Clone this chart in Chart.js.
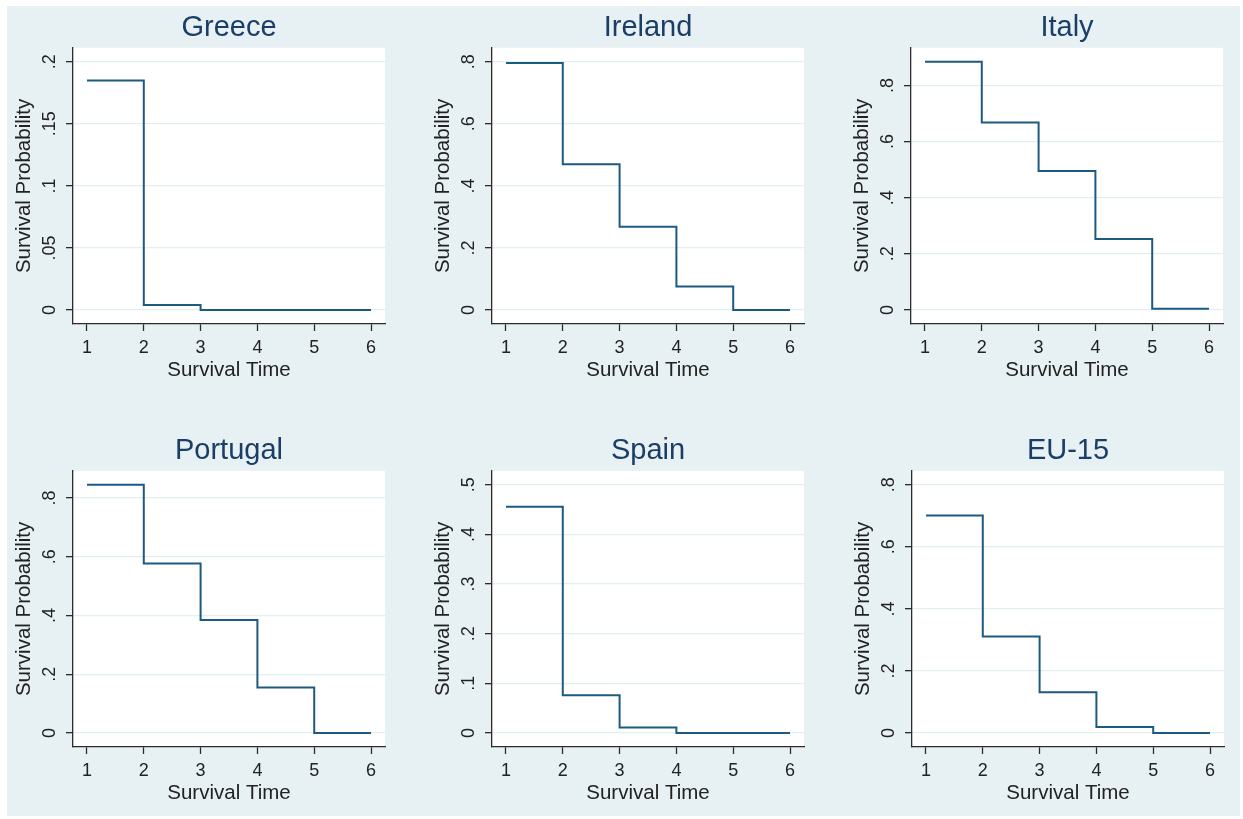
<!DOCTYPE html>
<html>
<head>
<meta charset="utf-8">
<script src="https://cdn.jsdelivr.net/npm/chart.js@4.4.1/dist/chart.umd.min.js"></script>
<style>
  body { margin: 0; background: #fff; width: 1243px; height: 819px; overflow: hidden; }
  #bg { position: absolute; left: 7px; top: 6px; width: 1233px; height: 810px; background: #e7f1f3; }
  canvas { position: absolute; }
</style>
</head>
<body>
<div id="bg"></div>
<canvas id="c0" width="387" height="381" style="left:8px;top:6px"></canvas>
<canvas id="c1" width="387" height="381" style="left:427px;top:6px"></canvas>
<canvas id="c2" width="387" height="381" style="left:846px;top:6px"></canvas>
<canvas id="c3" width="387" height="381" style="left:8px;top:429px"></canvas>
<canvas id="c4" width="387" height="381" style="left:427px;top:429px"></canvas>
<canvas id="c5" width="387" height="381" style="left:847px;top:429px"></canvas>
<script>
// ---------------- data ----------------
var survivalTime = [1, 2, 3, 4, 5, 6];
var countries = ['Greece', 'Ireland', 'Italy', 'Portugal', 'Spain', 'EU-15'];

var greece   = [0.185, 0.004, 0, 0, 0, 0];
var ireland  = [0.796, 0.470, 0.268, 0.076, 0, 0];
var italy    = [0.884, 0.668, 0.495, 0.253, 0.004, 0.004];
var portugal = [0.845, 0.577, 0.385, 0.155, 0, 0];
var spain    = [0.456, 0.076, 0.011, 0, 0, 0];
var eu15     = [0.701, 0.311, 0.131, 0.019, 0, 0];

var yTicksGreece = [0, 0.05, 0.1, 0.15, 0.2];
var yTicksTenths = [0, 0.1, 0.2, 0.3, 0.4, 0.5];
var yTicksFifths = [0, 0.2, 0.4, 0.6, 0.8];

var series = [greece, ireland, italy, portugal, spain, eu15];
var yTicks = [yTicksGreece, yTicksFifths, yTicksFifths, yTicksFifths, yTicksTenths, yTicksFifths];

// ---------------- style ----------------
var FONT = "'Liberation Sans', Arial, Helvetica, sans-serif";
var lineColor = '#1c5a80';
var titleColor = '#1a3e68';
var axisColor = '#2b2b2b';
var gridColor = '#e3eef1';
var m = 14 / 248; // stata plot-region inner margin, as a share of the data range

// white plot region behind the lines
var plotBg = {
    id: 'plotBg',
    beforeDraw: function(chart) {
        var a = chart.chartArea, ctx = chart.ctx;
        ctx.save();
        ctx.fillStyle = '#fff';
        ctx.fillRect(a.left, a.top, a.right - a.left, a.bottom - a.top);
        ctx.restore();
    }
};

function fmt(v) {
    if (v === 0) return '0';
    return String(+v.toFixed(2)).replace(/^0\./, '.');
}

for (var i = 0; i < countries.length; i++) {
    var vals = series[i];
    var ticks = yTicks[i];
    var hi = Math.max(Math.max.apply(null, ticks), Math.max.apply(null, vals));
    var yPad = ticks === yTicksGreece ? 3 : 8;

    (function(vals, ticks, hi, yPad, name, id) {
        new Chart(document.getElementById(id).getContext('2d'), {
            type: 'line',
            data: {
                datasets: [{
                    label: name,
                    data: survivalTime.map(function(t, k) { return {x: t, y: vals[k]}; }),
                    borderColor: lineColor,
                    borderWidth: 2,
                    pointRadius: 0,
                    stepped: 'before',
                    fill: false
                }]
            },
            options: {
                responsive: false,
                animation: false,
                devicePixelRatio: 1,
                layout: { padding: { left: 0, right: 10, top: 0, bottom: 0 } },
                plugins: {
                    legend: { display: false },
                    tooltip: { enabled: false },
                    title: {
                        display: true,
                        text: name,
                        fullSize: false,
                        color: titleColor,
                        font: { family: FONT, size: 29, weight: 'normal' },
                        padding: { top: 5, bottom: 2 }
                    }
                },
                scales: {
                    x: {
                        type: 'linear',
                        min: 1 - 0.246,
                        max: 6 + 0.246,
                        afterBuildTicks: function(s) {
                            s.ticks = survivalTime.map(function(t) { return {value: t}; });
                        },
                        afterFit: function(s) { s.height = 63; },
                        ticks: {
                            autoSkip: false,
                            maxRotation: 0,
                            padding: 6,
                            color: '#222',
                            font: { family: FONT, size: 18 }
                        },
                        grid: {
                            drawOnChartArea: false,
                            drawTicks: true,
                            tickLength: 7,
                            tickColor: axisColor,
                            tickWidth: 1.3
                        },
                        border: { color: axisColor, width: 1.3 },
                        title: {
                            display: true,
                            text: 'Survival Time',
                            color: '#222',
                            font: { family: FONT, size: 20.5 },
                            padding: { top: 0, bottom: 4 }
                        }
                    },
                    y: {
                        type: 'linear',
                        min: 0 - m * hi,
                        max: hi + m * hi,
                        afterBuildTicks: function(s) {
                            s.ticks = ticks.map(function(v) { return {value: v}; });
                        },
                        afterFit: function(s) { s.width = 65; },
                        ticks: {
                            autoSkip: false,
                            minRotation: 90,
                            maxRotation: 90,
                            crossAlign: 'center',
                            padding: yPad,
                            color: '#222',
                            font: { family: FONT, size: 18 },
                            callback: function(v) { return fmt(v); }
                        },
                        grid: {
                            color: gridColor,
                            lineWidth: 1.3,
                            drawTicks: true,
                            tickLength: 7,
                            tickColor: axisColor,
                            tickWidth: 1.3
                        },
                        border: { color: axisColor, width: 1.3 },
                        title: {
                            display: true,
                            text: 'Survival Probability',
                            color: '#222',
                            font: { family: FONT, size: 20.5 },
                            padding: { top: 4, bottom: 0 }
                        }
                    }
                }
            },
            plugins: [plotBg]
        });
    })(vals, ticks, hi, yPad, countries[i], 'c' + i);
}
</script>
</body>
</html>
